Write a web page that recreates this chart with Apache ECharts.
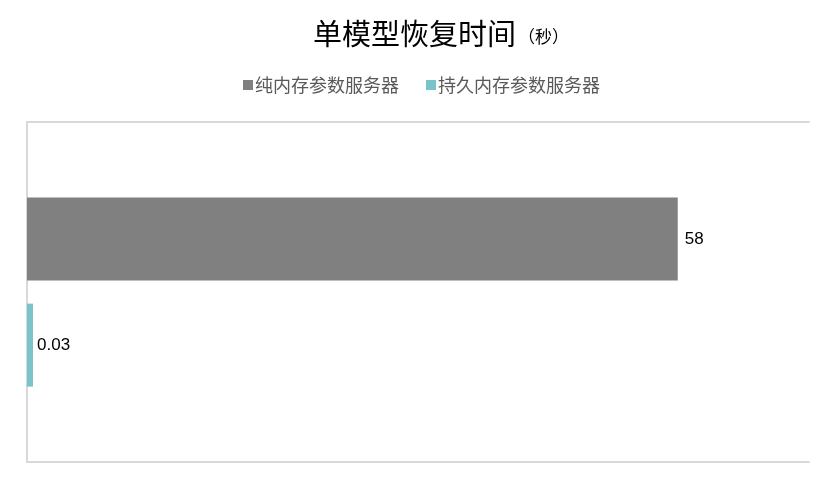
<!DOCTYPE html>
<html>
<head>
<meta charset="utf-8">
<script src="https://cdn.jsdelivr.net/npm/echarts@6/dist/echarts.min.js"></script>
<style>
  html, body { margin: 0; padding: 0; background: #fff; }
  #chart { width: 830px; height: 484px; }
</style>
</head>
<body>
<div id="chart"></div>
<script>
// single category, two series
const categories = ["单模型"];
const seriesNames = ["纯内存参数服务器", "持久内存参数服务器"];
const memOnly = [58];
const persistent = [0.03];

const chart = echarts.init(document.getElementById("chart"), null, { renderer: "canvas" });
const font = "'Liberation Sans', 'Noto Sans CJK SC', sans-serif";
const cjk = "'Noto Sans CJK SC', sans-serif";

chart.setOption({
  animation: false,
  title: {
    text: "{a|单模型恢复时间}{b|（秒）}",
    left: 436,
    textAlign: "center",
    top: 14,
    textStyle: {
      fontWeight: "normal",
      rich: {
        a: { fontSize: 29, color: "#000", fontFamily: cjk, fontWeight: "normal" },
        b: { fontSize: 17, color: "#000", fontFamily: cjk, fontWeight: "normal", padding: [6, 0, 0, 2] }
      }
    }
  },
  legend: {
    top: 71,
    left: 238,
    itemWidth: 10,
    itemHeight: 10,
    itemGap: 27,
    icon: "rect",
    textStyle: { fontSize: 18, color: "#595959", fontFamily: cjk, padding: [0, 0, 0, -3] },
    data: seriesNames
  },
  grid: { left: 27, right: 21, top: 122, bottom: 22, containLabel: false },
  xAxis: [
    {
      type: "value", min: 0, max: 69.7, position: "bottom",
      axisLine: { show: true, lineStyle: { color: "#d9d9d9", width: 2 } },
      axisTick: { show: false }, axisLabel: { show: false }, splitLine: { show: false }
    },
    {
      type: "value", min: 0, max: 69.7, position: "top",
      axisLine: { show: true, lineStyle: { color: "#d9d9d9", width: 2 } },
      axisTick: { show: false }, axisLabel: { show: false }, splitLine: { show: false }
    }
  ],
  yAxis: {
    type: "category",
    data: categories,
    inverse: true,
    axisLine: { show: true, lineStyle: { color: "#d9d9d9", width: 2 } },
    axisTick: { show: false },
    axisLabel: { show: false }
  },
  series: [
    {
      name: seriesNames[0],
      type: "bar",
      data: memOnly,
      barWidth: 83,
      barGap: "28%",
      itemStyle: { color: "#808080" },
      label: { show: true, position: "right", distance: 7, color: "#000", fontSize: 17, fontFamily: font }
    },
    {
      name: seriesNames[1],
      type: "bar",
      data: persistent,
      barWidth: 83,
      barGap: "28%",
      barMinHeight: 6,
      itemStyle: { color: "#78c4c8" },
      label: { show: true, position: "right", distance: 4, color: "#000", fontSize: 17, fontFamily: font }
    }
  ]
});
</script>
</body>
</html>
